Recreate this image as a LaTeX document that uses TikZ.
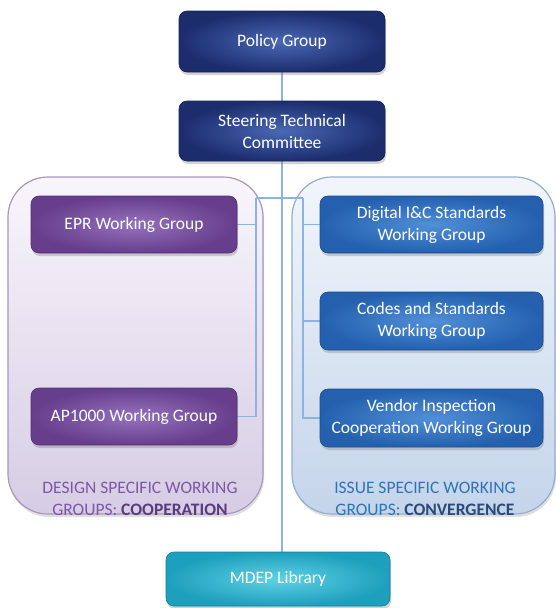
\documentclass[tikz,border=0pt]{standalone}
\usepackage{fontspec}
\setmainfont{Carlito}
\usetikzlibrary{shadows}

\pgfdeclarelayer{back}
\pgfdeclarelayer{links}
\pgfsetlayers{back,links,main}

\definecolor{navyD}{HTML}{1C2D6E}
\definecolor{navyL}{HTML}{4A68B4}
\definecolor{purpD}{HTML}{663E8C}
\definecolor{purpL}{HTML}{9572BD}
\definecolor{blueD}{HTML}{2460AE}
\definecolor{blueL}{HTML}{5090D8}
\definecolor{cyanD}{HTML}{1E9FBC}
\definecolor{cyanL}{HTML}{5ED2E6}
\definecolor{linkc}{HTML}{8DB3E2}
\definecolor{lavTop}{HTML}{F8F6FB}
\definecolor{lavBot}{HTML}{D6CCE4}
\definecolor{lavEdge}{HTML}{A597C2}
\definecolor{skyTop}{HTML}{F2F6FB}
\definecolor{skyBot}{HTML}{C4D4EA}
\definecolor{skyEdge}{HTML}{93AED3}
\definecolor{purpText}{HTML}{7E57A8}
\definecolor{purpBold}{HTML}{5A3C7C}
\definecolor{blueText}{HTML}{2E74B8}
\definecolor{blueBold}{HTML}{2A4A78}

\tikzset{
  box/.style={rectangle, rounded corners=8pt, text=white, align=center,
    font=\fontsize{17.5}{22}\selectfont, minimum height=58pt, inner sep=2pt,
    drop shadow={opacity=0.35, shadow xshift=1pt, shadow yshift=-3pt}},
  navybox/.style={box, shading=radial, inner color=navyL, outer color=navyD, draw=navyD!80!black, line width=0.6pt},
  purpbox/.style={box, shading=radial, inner color=purpL, outer color=purpD, draw=purpD!80!black, line width=0.6pt},
  bluebox/.style={box, shading=radial, inner color=blueL, outer color=blueD, draw=blueD!80!black, line width=0.6pt},
  cyanbox/.style={box, shading=radial, inner color=cyanL, outer color=cyanD, draw=cyanD!80!black, line width=0.6pt},
  link/.style={draw=linkc, line width=1.6pt},
  groupbox/.style={rounded corners=40pt, line width=1.2pt,
    drop shadow={opacity=0.25, shadow xshift=1pt, shadow yshift=-3pt}},
  grouplabel/.style={align=center, font=\fontsize{17.5}{22}\selectfont}
}

\begin{document}
\begin{tikzpicture}[x=1pt, y=-1pt]
\useasboundingbox (0,0) rectangle (556,608);

% group containers
\begin{pgfonlayer}{back}
\path[groupbox, top color=lavTop, bottom color=lavBot, draw=lavEdge]
  (8,177) rectangle (263,514);
\path[groupbox, top color=skyTop, bottom color=skyBot, draw=skyEdge]
  (292,177) rectangle (555,514);
\end{pgfonlayer}

% top of the hierarchy
\node[navybox, minimum width=206pt, minimum height=61pt] (policy) at (282,41.5) {Policy Group};
\node[navybox, minimum width=206pt, minimum height=60pt] (stc) at (282,131) {Steering Technical\\Committee};

% design specific groups
\node[purpbox, minimum width=206pt, minimum height=57pt] (epr) at (134,224.5) {EPR Working Group};
\node[purpbox, minimum width=206pt, minimum height=57pt] (ap) at (134,416.5) {AP1000 Working Group};

% issue specific groups
\node[bluebox, minimum width=223pt, minimum height=57pt] (dig) at (431.5,224.5) {Digital I\&C Standards\\Working Group};
\node[bluebox, minimum width=223pt, minimum height=58pt] (codes) at (431.5,321) {Codes and Standards\\Working Group};
\node[bluebox, minimum width=223pt, minimum height=58pt] (vendor) at (431.5,418) {Vendor Inspection\\Cooperation Working Group};

% library
\node[cyanbox, minimum width=224pt, minimum height=54pt] (mdep) at (278,579) {MDEP Library};

% group captions
\node[grouplabel, text=purpText] (dlabel) at (140,499) {DESIGN SPECIFIC WORKING\\GROUPS: \textcolor{purpBold}{\textbf{COOPERATION}}};
\node[grouplabel, text=blueText] (ilabel) at (425,499) {ISSUE SPECIFIC WORKING\\GROUPS: \textcolor{blueBold}{\textbf{CONVERGENCE}}};

% connectors, kept behind the boxes
\coordinate (jl) at (256,198);
\coordinate (jr) at (303,198);
\coordinate (spine) at (282,198);
\begin{pgfonlayer}{links}
\draw[link] (policy.south -| spine) -- (stc.north -| spine);
\draw[link] (stc.south -| spine) -- (mdep.north -| spine);
\draw[link] (jl) -- (jr);
\draw[link] (jl) |- (epr.east);
\draw[link] (jl) |- (ap.east);
\draw[link] (jr) |- (dig.west);
\draw[link] (jr) |- (codes.west);
\draw[link] (jr) |- (vendor.west);
\end{pgfonlayer}
\end{tikzpicture}
\end{document}
